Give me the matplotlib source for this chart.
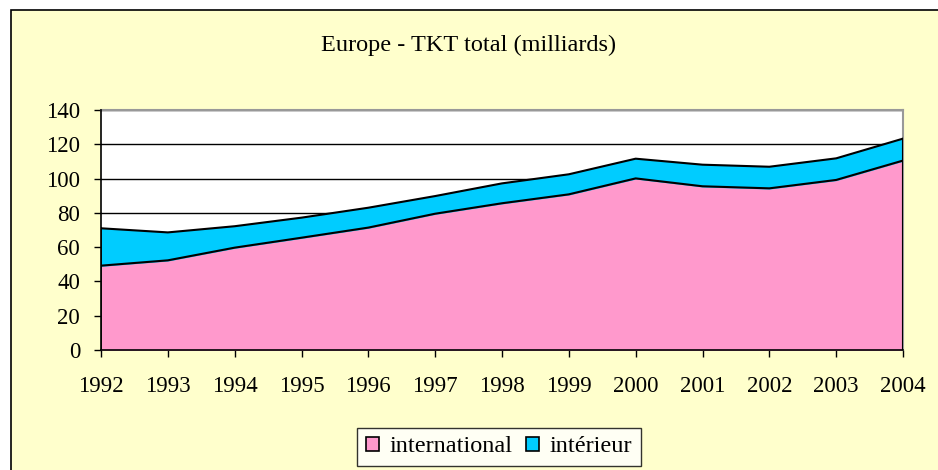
import matplotlib.pyplot as plt
from matplotlib.patches import Rectangle

years = [1992, 1993, 1994, 1995, 1996, 1997, 1998, 1999, 2000, 2001, 2002, 2003, 2004]
international = [49.2, 52.3, 59.7, 65.5, 71.4, 79.5, 85.6, 90.8, 100.1, 95.5, 94.3, 99.2, 110.5]
interieur = [21.8, 16.3, 12.5, 11.7, 11.6, 10.3, 11.6, 11.7, 11.5, 12.6, 12.6, 12.6, 12.8]
labels = ['international', 'intérieur']
colors = ['#FF99CC', '#00CCFF']

plt.rcParams['font.family'] = ['Liberation Serif', 'DejaVu Serif']

fig = plt.figure(figsize=(9.38, 4.70), dpi=100)
fig.patch.set_facecolor('white')

# chart background with border (cut off at right / bottom)
bg = fig.add_axes([0, 0, 1, 1], zorder=-1)
bg.set_xlim(0, 938)
bg.set_ylim(470, 0)
bg.axis('off')
bg.add_patch(Rectangle((11, 10), 1000, 500, facecolor='#FFFFCC',
                       edgecolor='black', linewidth=1.2))

ax = fig.add_axes([101 / 938, 1 - 350 / 470, (903 - 101) / 938, 240 / 470])
ax.set_facecolor('white')

top = [a + b for a, b in zip(international, interieur)]
ax.fill_between(years, 0, international, color=colors[0], label=labels[0], zorder=2)
ax.fill_between(years, international, top, color=colors[1], label=labels[1], zorder=2)
ax.plot(years, international, color='black', linewidth=1.5, zorder=3)
ax.plot(years, top, color='black', linewidth=1.5, zorder=3)
ax.plot([years[0], years[0]], [0, top[0]], color='black', linewidth=1.2, zorder=3)
ax.plot([years[-1], years[-1]], [0, top[-1]], color='black', linewidth=1.5, zorder=3)

ax.set_xlim(years[0], years[-1])
ax.set_ylim(0, 140)
ax.set_yticks(range(0, 141, 20))
ax.set_xticks(years)
ax.yaxis.grid(True, color='black', linewidth=1, zorder=1)
ax.set_axisbelow(True)

for side in ['top', 'right']:
    ax.spines[side].set_color('#999999')
    ax.spines[side].set_linewidth(1.5)
for side in ['left', 'bottom']:
    ax.spines[side].set_color('black')
    ax.spines[side].set_linewidth(1.2)
    ax.spines[side].set_zorder(4)

ax.tick_params(axis='both', direction='out', length=5, width=1, labelsize=16.5, color='black')
ax.tick_params(axis='x', pad=14)
ax.tick_params(axis='y', pad=10)

fig.text(469 / 938, 1 - 45 / 470, 'Europe - TKT total (milliards)', ha='center', va='center', fontsize=17.5)

leg = fig.legend(loc='center', bbox_to_anchor=(499 / 938, 1 - 447 / 470), ncol=2,
                 fontsize=17.5, frameon=True, fancybox=False, edgecolor='black',
                 handlelength=0.53, handleheight=0.53, handletextpad=0.45, columnspacing=0.55,
                 borderpad=0.35)
leg.get_frame().set_linewidth(1)
for h in leg.legend_handles:
    h.set_edgecolor('black')
    h.set_linewidth(1.2)

fig.savefig('out.png', dpi=100, facecolor=fig.get_facecolor())
